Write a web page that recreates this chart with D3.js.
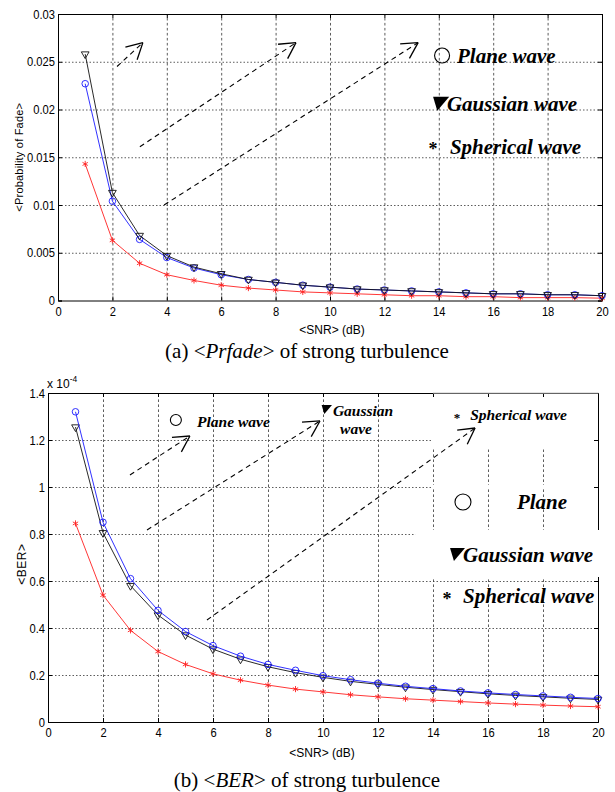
<!DOCTYPE html>
<html>
<head>
<meta charset="utf-8">
<script src="https://cdn.jsdelivr.net/npm/d3@7"></script>
<style>
  body { margin: 0; background: #fff; }
  svg { display: block; }
</style>
</head>
<body>
<svg id="fig" width="615" height="792"></svg>
<script>
// ---- data -------------------------------------------------------------
const snrDb = [1, 2, 3, 4, 5, 6, 7, 8, 9, 10, 11, 12, 13, 14, 15, 16, 17, 18, 19, 20];
const snrTicks = [0, 2, 4, 6, 8, 10, 12, 14, 16, 18, 20];
const snrTickLabels = ["0", "2", "4", "6", "8", "10", "12", "14", "16", "18", "20"];

// (a) average probability of fade
const fadeTicks = [0, 0.005, 0.01, 0.015, 0.02, 0.025, 0.03];
const fadeTickLabels = ["0", "0.005", "0.01", "0.015", "0.02", "0.025", "0.03"];
const fadePlane = [0.0227, 0.0104, 0.0064, 0.0045, 0.0034, 0.0027, 0.0022, 0.0019, 0.0016, 0.0014,
                   0.0012, 0.0011, 0.0010, 0.0009, 0.0008, 0.0007, 0.0007, 0.0006, 0.0006, 0.0005];
const fadeGaussian = [0.0258, 0.0113, 0.0068, 0.0047, 0.0035, 0.0028, 0.0022, 0.0019, 0.0016, 0.0014,
                      0.0012, 0.0011, 0.0010, 0.0009, 0.0008, 0.0007, 0.0007, 0.0006, 0.0006, 0.0005];
const fadeSpherical = [0.0143, 0.0063, 0.0039, 0.0027, 0.0021, 0.0016, 0.0013, 0.0011, 0.0009, 0.0008,
                       0.0007, 0.0006, 0.0005, 0.0005, 0.0004, 0.0004, 0.0003, 0.0003, 0.0003, 0.00024];

// (b) average bit error rate, in units of 1e-4
const berTicks = [0, 0.2, 0.4, 0.6, 0.8, 1.0, 1.2, 1.4];
const berTickLabels = ["0", "0.2", "0.4", "0.6", "0.8", "1", "1.2", "1.4"];
const berPlane = [1.32, 0.85, 0.61, 0.475, 0.385, 0.325, 0.28, 0.245, 0.22, 0.197,
                  0.18, 0.165, 0.152, 0.142, 0.132, 0.124, 0.117, 0.111, 0.105, 0.100];
const berGaussian = [1.255, 0.805, 0.58, 0.455, 0.37, 0.31, 0.267, 0.235, 0.21, 0.19,
                     0.173, 0.16, 0.148, 0.138, 0.129, 0.12, 0.113, 0.107, 0.101, 0.096];
const berSpherical = [0.845, 0.54, 0.39, 0.30, 0.245, 0.205, 0.178, 0.157, 0.14, 0.128,
                      0.116, 0.107, 0.099, 0.093, 0.087, 0.081, 0.076, 0.072, 0.068, 0.065];

// ---- drawing helpers ------------------------------------------------------
const svg = d3.select("#fig");
const tickFont = "'Liberation Sans', Arial, sans-serif";
const serif = "'Liberation Serif', 'Times New Roman', serif";

const seriesStyle = {
  plane:     { color: "#1a1aff", symbol: d3.symbolCircle, size: 34 },
  gaussian:  { color: "#111111", symbol: d3.symbolTriangle, size: 26, rotate: 180 },
  spherical: { color: "#ff2020", symbol: d3.symbolAsterisk || d3.symbolStar, size: 26 }
};

function condense(sel) {
  sel.attr("transform", "scale(0.86,1)");
}

function drawPanel(cfg) {
  const g = svg.append("g");
  const x = d3.scaleLinear().domain([0, 20]).range([cfg.left, cfg.right]);
  const y = d3.scaleLinear().domain([0, cfg.yMax]).range([cfg.bottom, cfg.top]);
  const w = cfg.right - cfg.left, h = cfg.bottom - cfg.top;

  // grid: short dashes vertically, dots horizontally
  const gridX = g.append("g").attr("transform", `translate(0,${cfg.bottom})`)
    .call(d3.axisBottom(x).tickValues(snrTicks.slice(1, -1)).tickSize(-h).tickFormat(""));
  const gridY = g.append("g").attr("transform", `translate(${cfg.left},0)`)
    .call(d3.axisLeft(y).tickValues(cfg.yTicks.slice(1, -1)).tickSize(-w).tickFormat(""));
  gridX.selectAll("line").attr("stroke-dasharray", "2.6,2.4");
  gridY.selectAll("line").attr("stroke-dasharray", "1.5,2");
  [gridX, gridY].forEach(s => {
    s.select(".domain").remove();
    s.selectAll("line").attr("stroke", "#333").attr("stroke-width", 0.8);
  });

  if (cfg.beforeFrame) cfg.beforeFrame(g, x, y);

  // axes with inward ticks on all four sides
  const fmtY = d => cfg.yTickLabels[cfg.yTicks.indexOf(d)];
  const fmtX = d => snrTickLabels[snrTicks.indexOf(d)];
  const axB = g.append("g").attr("transform", `translate(0,${cfg.bottom})`)
    .call(d3.axisBottom(x).tickValues(snrTicks).tickSize(-4).tickPadding(6).tickFormat(fmtX));
  const axL = g.append("g").attr("transform", `translate(${cfg.left},0)`)
    .call(d3.axisLeft(y).tickValues(cfg.yTicks).tickSize(-4).tickPadding(3).tickFormat(fmtY));
  const axT = g.append("g").attr("transform", `translate(0,${cfg.top})`)
    .call(d3.axisTop(x).tickValues(snrTicks).tickSize(-4).tickFormat(""));
  const axR = g.append("g").attr("transform", `translate(${cfg.right},0)`)
    .call(d3.axisRight(y).tickValues(cfg.yTicks).tickSize(-4).tickFormat(""));
  [axB, axL, axT, axR].forEach(s => {
    s.select(".domain").attr("stroke", "#000").attr("stroke-width", 1);
    s.selectAll("line").attr("stroke", "#000");
    s.selectAll("text").attr("font-family", tickFont).attr("font-size", 13)
      .attr("fill", "#000").call(condense);
  });
  axL.selectAll("text").attr("x", -3.5);

  if (cfg.afterFrame) cfg.afterFrame(g, x, y);

  // series lines and markers
  const line = d3.line().x((d, i) => x(snrDb[i])).y(d => y(d));
  cfg.series.forEach(s => {
    const st = seriesStyle[s.key];
    g.append("path").datum(s.values).attr("d", line)
      .attr("fill", "none").attr("stroke", st.color).attr("stroke-width", 0.9);
    g.append("g").selectAll("path").data(s.values).join("path")
      .attr("d", d3.symbol().type(st.symbol).size(st.size))
      .attr("transform", (d, i) => `translate(${x(snrDb[i])},${y(d)})` + (st.rotate ? ` rotate(${st.rotate})` : ""))
      .attr("fill", "none").attr("stroke", st.color).attr("stroke-width", 0.9);
  });

  // axis titles
  g.append("text").attr("x", (cfg.left + cfg.right) / 2 + cfg.xLabelShift).attr("y", cfg.bottom + cfg.xLabelGap)
    .attr("text-anchor", "middle").attr("font-family", tickFont).attr("font-size", 12)
    .text("<SNR> (dB)");
  g.append("text")
    .attr("transform", `translate(${cfg.yLabelX},${cfg.top + h * cfg.yLabelPos}) rotate(-90)`)
    .attr("text-anchor", "middle").attr("font-family", tickFont).attr("font-size", cfg.yLabelSize)
    .attr("letter-spacing", cfg.yLabelSpacing || 0)
    .text(cfg.yLabel);

  // dashed annotation arrows
  cfg.arrows.forEach(a => {
    const x0 = x(a.from[0]), y0 = y(a.from[1]), x1 = x(a.to[0]), y1 = y(a.to[1]);
    g.append("line").attr("x1", x0).attr("y1", y0).attr("x2", x1).attr("y2", y1)
      .attr("stroke", "#000").attr("stroke-width", 1.1).attr("stroke-dasharray", "5,4");
    const ang = Math.atan2(y0 - y1, x0 - x1);
    const L = a.head || 18, spread = 0.5;
    [ang - spread, ang + spread].forEach(t => {
      g.append("line").attr("x1", x1).attr("y1", y1)
        .attr("x2", x1 + L * Math.cos(t)).attr("y2", y1 + L * Math.sin(t))
        .attr("stroke", "#000").attr("stroke-width", 1.3);
    });
  });

  // legend glyphs and text
  cfg.legend.forEach(l => {
    const px = x(l.at[0]), py = y(l.at[1]);
    if (l.kind === "circle") {
      g.append("circle").attr("cx", px).attr("cy", py).attr("r", l.r)
        .attr("fill", "none").attr("stroke", "#000").attr("stroke-width", 1.1);
    } else if (l.kind === "tri") {
      const s = l.s;
      g.append("path").attr("d", `M${px},${py}L${px + s * 1.15},${py}L${px + s * 0.3},${py + s}Z`)
        .attr("fill", "#000");
    } else if (l.kind === "star") {
      g.append("text").attr("x", px).attr("y", py).attr("font-family", serif)
        .attr("font-size", l.size).attr("font-weight", "bold").attr("text-anchor", "middle")
        .text("*");
    } else {
      g.append("text").attr("x", px).attr("y", py).attr("font-family", serif)
        .attr("font-size", l.size).attr("font-weight", "bold").attr("font-style", "italic")
        .text(l.text);
    }
  });
  return { g, x, y };
}

function caption(yPos, label, italicPart) {
  const t = svg.append("text").attr("x", 307).attr("y", yPos).attr("text-anchor", "middle")
    .attr("font-family", serif).attr("font-size", 21);
  t.append("tspan").text(label + " <");
  t.append("tspan").attr("font-style", "italic").text(italicPart);
  t.append("tspan").text("> of strong turbulence");
}

// ---- panel (a) --------------------------------------------------------
drawPanel({
  left: 58, right: 602, top: 14, bottom: 300.5,
  yMax: 0.03, yTicks: fadeTicks, yTickLabels: fadeTickLabels,
  yLabel: "<Probability of Fade>", yLabelX: 23, yLabelPos: 0.5, yLabelSize: 11, yLabelSpacing: 0.2,
  xLabelGap: 33, xLabelShift: 2,
  series: [
    { key: "spherical", values: fadeSpherical },
    { key: "plane", values: fadePlane },
    { key: "gaussian", values: fadeGaussian }
  ],
  arrows: [
    { from: [2.17, 0.0245], to: [3.12, 0.0270] },
    { from: [3.01, 0.0161], to: [8.75, 0.0270] },
    { from: [3.90, 0.0100], to: [13.24, 0.0270] }
  ],
  legend: [
    { kind: "circle", at: [14.12, 0.02565], r: 7.5 },
    { kind: "text", at: [14.67, 0.02491], size: 21, text: "Plane wave" },
    { kind: "tri", at: [13.79, 0.02134], s: 14 },
    { kind: "text", at: [14.30, 0.01988], size: 21, text: "Gaussian wave" },
    { kind: "star", at: [13.79, 0.01520], size: 18 },
    { kind: "text", at: [14.41, 0.01537], size: 21, text: "Spherical wave" }
  ]
});
caption(358, "(a)", "Prfade");

// ---- panel (b) --------------------------------------------------------
const panelB = drawPanel({
  left: 48, right: 598, top: 393, bottom: 722,
  yMax: 1.4, yTicks: berTicks, yTickLabels: berTickLabels,
  yLabel: "<BER>", yLabelX: 26, yLabelPos: 0.52, yLabelSize: 12, yLabelSpacing: 0.5,
  xLabelGap: 35, xLabelShift: -1,
  series: [
    { key: "spherical", values: berSpherical },
    { key: "gaussian", values: berGaussian },
    { key: "plane", values: berPlane }
  ],
  beforeFrame: (g, x, y) => {
    // blank label panels over the grid on the right-hand side
    g.append("rect").attr("x", x(14.0)).attr("y", y(1.4) + 0.5)
      .attr("width", x(20) - x(14.0) - 0.5).attr("height", y(1.163) - y(1.4)).attr("fill", "#fff");
    g.append("rect").attr("x", x(14.0)).attr("y", y(1.0) - 2)
      .attr("width", x(20) - x(14.0) - 0.5).attr("height", 4).attr("fill", "#fff");
  },
  afterFrame: (g, x, y) => {
    g.append("rect").attr("x", x(13.35)).attr("y", y(0.817))
      .attr("width", x(20) - x(13.35) + 3).attr("height", y(0.617) - y(0.817)).attr("fill", "#fff");
    g.append("line").attr("x1", x(14.0)).attr("x2", x(20) + 0.5).attr("y1", y(1.4)).attr("y2", y(1.4))
      .attr("stroke", "#c8c8c8").attr("stroke-width", 1.2);
  },
  arrows: [
    { from: [2.98, 1.051], to: [5.16, 1.217] },
    { from: [3.60, 0.817], to: [9.89, 1.281] },
    { from: [5.78, 0.434], to: [15.53, 1.251] }
  ],
  legend: [
    { kind: "circle", at: [4.65, 1.285], r: 5.5 },
    { kind: "text", at: [5.42, 1.255], size: 15.5, text: "Plane wave" },
    { kind: "tri", at: [9.95, 1.349], s: 9 },
    { kind: "text", at: [10.36, 1.302], size: 15.5, text: "Gaussian" },
    { kind: "text", at: [10.62, 1.226], size: 15.5, text: "wave" },
    { kind: "star", at: [14.87, 1.275], size: 13 },
    { kind: "text", at: [15.35, 1.285], size: 15.5, text: "Spherical wave" },
    { kind: "circle", at: [15.09, 0.936], r: 8 },
    { kind: "text", at: [17.05, 0.906], size: 21, text: "Plane" },
    { kind: "tri", at: [14.62, 0.740], s: 13 },
    { kind: "text", at: [15.09, 0.681], size: 21, text: "Gaussian wave" },
    { kind: "star", at: [14.51, 0.500], size: 18 },
    { kind: "text", at: [15.09, 0.506], size: 21, text: "Spherical wave" }
  ]
});

// exponent marker for the BER axis
const expo = panelB.g.append("text").attr("x", 47).attr("y", 388)
  .attr("font-family", tickFont).attr("font-size", 12);
expo.append("tspan").text("x 10");
expo.append("tspan").attr("dy", -6).attr("font-size", 8.5).text("-4");

caption(787, "(b)", "BER");
</script>
</body>
</html>
